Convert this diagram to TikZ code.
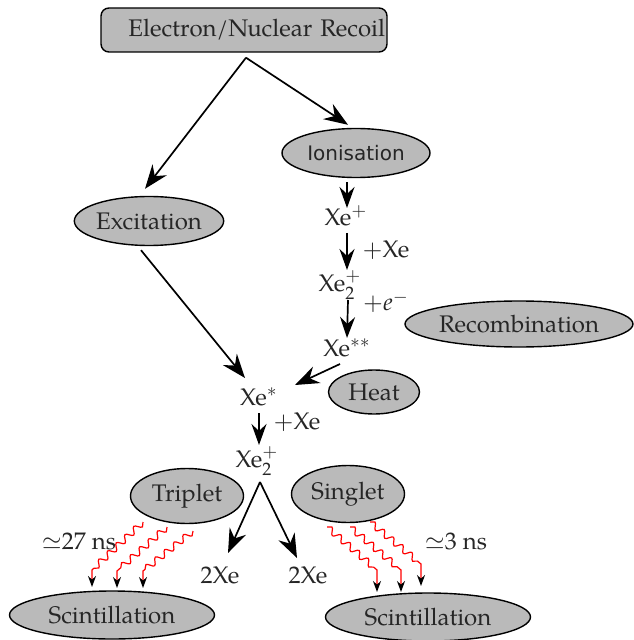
\documentclass[tikz,border=0pt]{standalone}
\usepackage{mathpazo}
\usepackage{fontspec}
\setmainfont{TeX Gyre Pagella}
\newfontfamily\dejavu{DejaVu Sans}
\usetikzlibrary{shapes.geometric,arrows.meta,decorations.pathmorphing,calc}
\begin{document}
\begin{tikzpicture}[x=0.5pt,y=-0.5pt,
  font=\fontsize{12}{14}\selectfont,
  bubble/.style={ellipse,draw,line width=0.7pt,fill=black!27,inner sep=0pt,text=black!85},
  txt/.style={inner sep=0pt,text=black!85},
  arr/.style={line width=0.85pt,-{Stealth[length=12pt,width=9pt,inset=4pt]}},
  varr/.style={line width=0.85pt,-{Stealth[length=10.5pt,width=7.5pt,inset=3.5pt]}},
  wave/.style={red,line width=0.6pt,-{Stealth[black,length=5.5pt,width=4pt]}},
  snk/.style={decoration={snake,segment length=6pt,amplitude=1.6pt}}
]
\useasboundingbox (0,0) rectangle (633,640);

% nodes
\node[draw,rounded corners=4pt,fill=black!27,line width=0.7pt,text=black!85,
      text width=141pt,align=right,inner xsep=1pt,inner ysep=0pt,minimum height=22pt] (rec) at (244,30) {Electron/Nuclear Recoil};
\node[bubble,minimum width=74pt,minimum height=24.5pt,font=\dejavu\fontsize{10}{12}\selectfont] (ion) at (356,153) {Ionisation};
\node[bubble,minimum width=74.5pt,minimum height=24.5pt] (exc) at (149,221) {Excitation};
\node[txt] (xep) at (346,216) {Xe$^+$};
\node[txt] (xe2a) at (340,285) {Xe$_2^+$};
\node[txt] (xess) at (347,348) {Xe$^{**}$};
\node[bubble,minimum width=114pt,minimum height=23pt] (recb) at (519,324) {Recombination};
\node[bubble,minimum width=45.5pt,minimum height=22pt] (heat) at (374,392) {Heat};
\node[txt] (xes) at (259,397) {Xe$^*$};
\node[txt] (xe2b) at (257,461) {Xe$_2^+$};
\node[bubble,minimum width=56.5pt,minimum height=27.5pt] (trip) at (187,496) {Triplet};
\node[bubble,minimum width=56.5pt,minimum height=28.5pt] (sing) at (348,494) {Singlet};
\node[txt] (xea) at (220,575) {2Xe};
\node[txt] (xeb) at (308,575) {2Xe};
\node[bubble,minimum width=102.5pt,minimum height=24pt] (scl) at (112,615) {Scintillation};
\node[bubble,minimum width=102.5pt,minimum height=24pt] (scr) at (428,617) {Scintillation};
\node[txt] (t27) at (79,541) {$\simeq$27 ns};
\node[txt] (t3) at (456,541) {$\simeq$3 ns};
\node[txt] (l1) at (386,250) {$+$Xe};
\node[txt] (l2) at (386,302) {$+e^-$};
\node[txt] (l3) at (297,422) {$+$Xe};

% connectors
\coordinate (split) at ($(rec.south)+(2,5)$);
\draw[arr] (split) -- ($(exc.north)+(-4,-7)$);
\draw[arr] (split) -- ($(ion.north)+(-8,-3)$);
\draw[varr] ($(ion.south)+(-9,4)$) -- ($(xep)+(1,-8)$);
\draw[varr] ($(xep)+(1,17)$) -- ($(xe2a)+(7,-15)$);
\draw[varr] ($(xe2a)+(8,15)$) -- ($(xess)+(0,-10)$);
\draw[arr] ($(xess)+(-7,16)$) -- ($(xes)+(36,-12)$);
\draw[arr] ($(exc.south)+(-8,4)$) -- ($(xes)+(-14,-19)$);
\draw[varr] ($(xes)+(0,16)$) -- ($(xe2b)+(2,-16)$);
\draw[arr] ($(xe2b)+(3,21)$) -- ($(xea)+(8,-22)$);
\draw[arr] ($(xe2b)+(3,21)$) -- ($(xeb)+(-11,-17)$);

% wavy arrows
\foreach \sx/\sy/\ex/\ey in {-44/26/-20/-28, -20/31/5/-27, 6/35/31/-27}{
  \draw[wave,snk] ($(trip)+(\sx,\sy)$) decorate {-- ($(scl)+(\ex,\ey-17)$)} -- ($(scl)+(\ex,\ey)$);
}
\foreach \sx/\sy/\ex/\ey in {-21/33/-51/-25, 2/33/-27/-25, 22/28/-7/-31}{
  \draw[wave,snk] ($(sing)+(\sx,\sy)$) decorate {-- ($(scr)+(\ex,\ey-22)$)} -- ($(scr)+(\ex,\ey)$);
}
\end{tikzpicture}
\end{document}
